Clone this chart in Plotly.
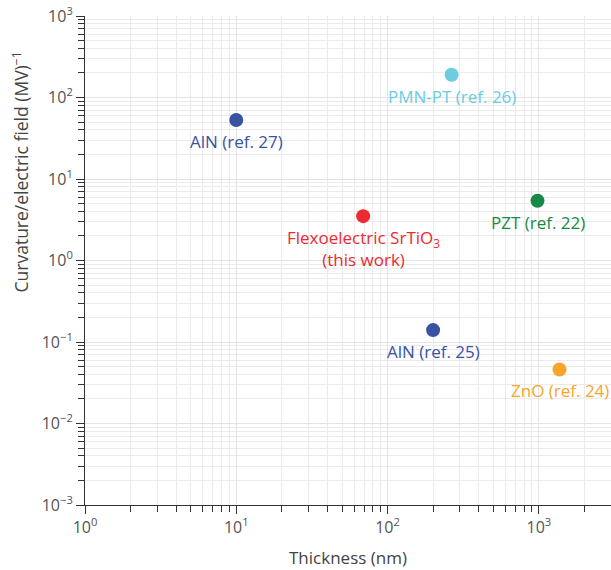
import math
import plotly.graph_objects as go

labels = ["AlN (ref. 27)", "PMN-PT (ref. 26)", "Flexoelectric SrTiO<sub>3</sub><br>(this work)",
          "PZT (ref. 22)", "AlN (ref. 25)", "ZnO (ref. 24)"]
thickness_nm = [10, 265, 69, 980, 200, 1370]
curvature_per_field = [53, 190, 3.5, 5.4, 0.14, 0.046]
colors = ["#3953a4", "#6ccde0", "#ed2a31", "#168a44", "#3953a4", "#f9a52c"]

x_tick_vals = [1, 10, 100, 1000]
x_tick_text = ["10<sup>0</sup>", "10<sup>1</sup>", "10<sup>2</sup>", "10<sup>3</sup>"]
y_tick_vals = [0.001, 0.01, 0.1, 1, 10, 100, 1000]
y_tick_text = ["10<sup>−3</sup>", "10<sup>−2</sup>", "10<sup>−1</sup>", "10<sup>0</sup>",
               "10<sup>1</sup>", "10<sup>2</sup>", "10<sup>3</sup>"]

fig = go.Figure()
fig.add_trace(go.Scatter(
    x=thickness_nm, y=curvature_per_field, mode="markers",
    marker=dict(size=14, color=colors), showlegend=False, cliponaxis=False,
    hoverinfo="skip"))

for lab, x, y, c in zip(labels, thickness_nm, curvature_per_field, colors):
    fig.add_annotation(x=math.log10(x), y=math.log10(y), text=lab, showarrow=False,
                       xanchor="center", yanchor="top", yshift=-8,
                       font=dict(color=c, size=17))

axis_common = dict(
    type="log", showline=True, linecolor="#333",
    linewidth=1, ticks="outside", ticklen=8, tickcolor="#333", showgrid=True,
    gridcolor="#e4e4e4", gridwidth=1, zeroline=False, mirror=False, automargin=False,
    tickfont=dict(size=16, color="#555"),
    minor=dict(ticks="outside", ticklen=6, tickcolor="#333", dtick="D1",
               showgrid=True, gridcolor="#ebebeb", gridwidth=1),
)

fig.update_layout(
    width=611, height=570,
    margin=dict(l=85, r=0, t=16, b=65),
    paper_bgcolor="white", plot_bgcolor="white",
    font=dict(family="Open Sans, sans-serif", color="#444"),
    xaxis=dict(axis_common, range=[0, 3.477], tickvals=x_tick_vals, ticktext=x_tick_text),
    yaxis=dict(axis_common, range=[-3, 3], tickvals=y_tick_vals, ticktext=y_tick_text),
)

fig.add_annotation(xref="paper", yref="paper", x=0.5, y=0, yshift=-52,
                   text="Thickness (nm)", showarrow=False, xanchor="center", yanchor="middle",
                   font=dict(size=17, color="#444"))
fig.add_annotation(xref="paper", yref="paper", x=0, xshift=-65, y=0.68,
                   text="Curvature/electric field (MV)<sup>−1</sup>", showarrow=False,
                   textangle=-90, xanchor="center", yanchor="middle",
                   font=dict(size=17.5, color="#444"))

fig.write_html("out.html", config={"displayModeBar": False},
               post_script="document.body.style.margin='0';document.body.style.overflow='hidden';")
